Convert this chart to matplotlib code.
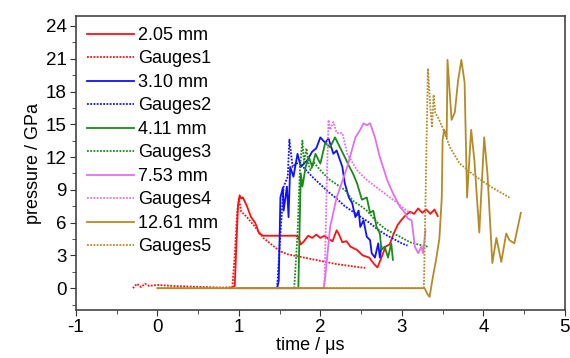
import matplotlib
matplotlib.use("Agg")
import matplotlib.pyplot as plt
from matplotlib.ticker import MultipleLocator

plt.rcParams['font.family'] = ['Liberation Sans', 'DejaVu Sans']
plt.rcParams['axes.unicode_minus'] = False

# 2.05 mm
red_x = [0.90, 0.95, 0.97, 0.99, 1.01, 1.03, 1.05, 1.10, 1.15, 1.20, 1.25, 1.30, 1.40, 1.50,
         1.60, 1.70, 1.73, 1.76, 1.80, 1.85, 1.90, 1.95, 2.00, 2.05, 2.10, 2.15, 2.20, 2.23,
         2.27, 2.32, 2.37, 2.45, 2.52, 2.60, 2.66, 2.70, 2.75, 2.80, 2.85, 2.90, 2.95, 3.00,
         3.05, 3.10, 3.15, 3.20, 3.25, 3.30, 3.35, 3.40, 3.44]
red_y = [0.0, 0.2, 4.0, 7.5, 8.5, 8.2, 8.3, 7.5, 6.5, 6.0, 5.0, 4.8, 4.8, 4.8,
         4.8, 4.8, 4.7, 4.0, 4.3, 4.8, 4.6, 4.9, 4.6, 4.8, 4.5, 4.3, 5.3, 4.9,
         4.2, 4.3, 3.8, 3.5, 3.0, 2.8, 2.2, 1.9, 2.8, 3.8, 4.0, 5.0, 5.8, 6.3,
         6.7, 7.0, 6.8, 7.3, 6.9, 7.2, 6.8, 7.2, 6.6]
# Gauges1
g1_x = [-0.30, -0.25, -0.20, -0.15, -0.10, 0.0, 0.2, 0.4, 0.6, 0.8, 0.92, 0.95, 0.98, 1.00,
        1.03, 1.06, 1.10, 1.20, 1.30, 1.40, 1.50, 1.60, 1.80, 2.00, 2.20, 2.40, 2.55]
g1_y = [0.0, 0.4, 0.1, 0.4, 0.2, 0.3, 0.2, 0.15, 0.1, 0.05, 0.1, 3.0, 7.0, 8.2,
        7.0, 6.8, 6.5, 5.6, 4.6, 4.0, 3.4, 3.1, 2.8, 2.5, 2.2, 2.0, 1.85]
# 3.10 mm
blue_x = [1.47, 1.49, 1.51, 1.54, 1.55, 1.59, 1.61, 1.63, 1.67, 1.72, 1.76, 1.84, 1.90, 1.95,
          2.00, 2.06, 2.10, 2.16, 2.20, 2.27, 2.30, 2.35, 2.39, 2.43, 2.47, 2.49, 2.53, 2.57,
          2.61, 2.63, 2.67, 2.71, 2.73, 2.75]
blue_y = [0.0, 0.7, 8.3, 9.2, 7.1, 9.3, 6.5, 11.1, 10.2, 12.3, 11.1, 11.7, 12.5, 12.8,
          13.8, 13.3, 13.7, 12.3, 12.6, 11.1, 9.6, 8.3, 7.8, 6.5, 7.1, 5.6, 6.2, 4.7,
          4.4, 3.2, 2.8, 4.1, 2.8, 3.8]
# Gauges2
g2_x = [1.47, 1.51, 1.55, 1.60, 1.62, 1.66, 1.70, 1.75, 1.80, 1.90, 2.00, 2.10, 2.20, 2.30,
        2.40, 2.50, 2.60, 2.70, 2.80, 2.90, 3.00, 3.07]
g2_y = [0.0, 5.0, 9.3, 10.2, 13.6, 11.1, 11.4, 11.5, 11.0, 10.2, 9.5, 8.8, 8.2, 7.5,
        7.0, 6.5, 6.0, 5.4, 4.9, 4.5, 4.1, 3.9]
# 4.11 mm
green_x = [1.00, 1.73, 1.76, 1.78, 1.82, 1.86, 1.90, 1.94, 2.00, 2.06, 2.12, 2.18, 2.24, 2.30,
           2.35, 2.40, 2.45, 2.51, 2.57, 2.61, 2.65, 2.69, 2.73, 2.75, 2.79, 2.83, 2.87, 2.89]
green_y = [0.0, 0.0, 10.5, 9.3, 11.1, 12.0, 11.1, 12.3, 11.4, 13.3, 12.9, 13.8, 12.9, 12.0,
           11.2, 10.5, 9.6, 8.1, 8.3, 6.9, 7.1, 5.6, 5.0, 3.5, 3.8, 2.8, 4.1, 2.6]
# Gauges3
g3_x = [1.68, 1.72, 1.75, 1.78, 1.80, 1.83, 1.86, 1.88, 1.92, 2.00, 2.10, 2.24, 2.30, 2.40,
        2.50, 2.57, 2.70, 2.80, 2.90, 2.98, 3.10, 3.20, 3.32]
g3_y = [0.0, 5.0, 11.0, 13.5, 11.5, 12.8, 11.2, 10.8, 11.5, 10.8, 10.0, 9.3, 9.0, 8.0,
        7.5, 7.1, 6.0, 5.4, 5.0, 4.7, 4.2, 4.0, 3.8]
# 7.53 mm
pink_x = [1.00, 2.04, 2.06, 2.12, 2.20, 2.33, 2.43, 2.49, 2.53, 2.57, 2.61, 2.67, 2.73, 2.82,
          2.89, 2.98, 3.04, 3.07, 3.12, 3.16, 3.20, 3.24, 3.26, 3.29]
pink_y = [0.0, 0.0, 1.0, 5.6, 8.3, 11.1, 13.8, 14.5, 15.1, 14.9, 15.1, 13.8, 12.0, 9.9,
          8.7, 7.4, 6.9, 6.4, 6.2, 3.8, 3.2, 3.8, 3.2, 5.3]
# Gauges4
g4_x = [2.05, 2.08, 2.10, 2.12, 2.16, 2.20, 2.24, 2.27, 2.33, 2.45, 2.57, 2.73, 2.89, 3.06, 3.12]
g4_y = [0.0, 10.0, 15.4, 14.5, 15.2, 14.2, 14.2, 14.2, 12.3, 10.8, 9.9, 9.0, 8.1, 7.1, 6.8]
# 12.61 mm
brown_x = [0.00, 3.28, 3.31, 3.34, 3.38, 3.42, 3.46, 3.49, 3.50, 3.52, 3.55, 3.56, 3.61, 3.65,
           3.69, 3.73, 3.77, 3.80, 3.85, 3.89, 3.95, 4.01, 4.05, 4.11, 4.16, 4.22, 4.28, 4.32,
           4.38, 4.46]
brown_y = [0.0, 0.0, -0.5, -0.8, 1.0, 2.6, 4.5, 8.3, 13.6, 14.5, 13.8, 20.9, 15.4, 16.1,
           19.0, 20.9, 18.8, 8.3, 14.5, 11.7, 5.1, 13.8, 10.5, 2.3, 4.6, 2.4, 5.0, 4.4,
           4.1, 6.9]
# Gauges5
g5_x = [0.00, 3.27, 3.30, 3.32, 3.35, 3.37, 3.39, 3.41, 3.44, 3.50, 3.59, 3.71, 3.91, 4.11, 4.32]
g5_y = [0.0, 0.0, 12.0, 20.1, 16.5, 14.7, 17.7, 16.0, 15.7, 14.7, 12.9, 11.4, 10.2, 9.2, 8.3]

dot = (0, (1, 0.8))
series = [
    (red_x, red_y, '#ff1010', '-', '2.05 mm'),
    (g1_x, g1_y, '#ff1010', dot, 'Gauges1'),
    (blue_x, blue_y, '#1010ff', '-', '3.10 mm'),
    (g2_x, g2_y, '#1010ff', dot, 'Gauges2'),
    (green_x, green_y, '#1a8a1a', '-', '4.11 mm'),
    (g3_x, g3_y, '#1a8a1a', dot, 'Gauges3'),
    (pink_x, pink_y, '#e070f0', '-', '7.53 mm'),
    (g4_x, g4_y, '#e070f0', dot, 'Gauges4'),
    (brown_x, brown_y, '#b58a28', '-', '12.61 mm'),
    (g5_x, g5_y, '#b58a28', dot, 'Gauges5'),
]

fig = plt.figure(figsize=(5.7, 3.58), dpi=100)
ax = fig.add_axes([0.133, 0.134, 0.858, 0.821])
for x, y, c, ls, lab in series:
    ax.plot(x, y, color=c, linestyle=ls, linewidth=1.3, label=lab)

ax.set_xlim(-1, 5)
ax.set_ylim(-2, 24.9)
ax.xaxis.set_major_locator(MultipleLocator(1))
ax.xaxis.set_minor_locator(MultipleLocator(0.5))
ax.yaxis.set_major_locator(MultipleLocator(3))
ax.yaxis.set_minor_locator(MultipleLocator(1.5))
ax.tick_params(which='both', direction='out', top=False, right=False, labelsize=13.5,
               color='#333333', pad=2)
ax.tick_params(which='major', length=4.5)
ax.tick_params(which='minor', length=3)
for s in ax.spines.values():
    s.set_color('#444444')
    s.set_linewidth(1.2)

ax.set_xlabel('time / \u03bcs', fontsize=13, labelpad=0)
ax.xaxis.set_label_coords(0.48, -0.092)
ax.set_ylabel('pressure / GPa', fontsize=13, labelpad=3)

ax.legend(loc='upper left', frameon=False, fontsize=13, handlelength=2.6,
          handletextpad=0.25, labelspacing=0.36, borderaxespad=0.2,
          bbox_to_anchor=(0.0, 1.0))

fig.savefig('out.png', dpi=100)
